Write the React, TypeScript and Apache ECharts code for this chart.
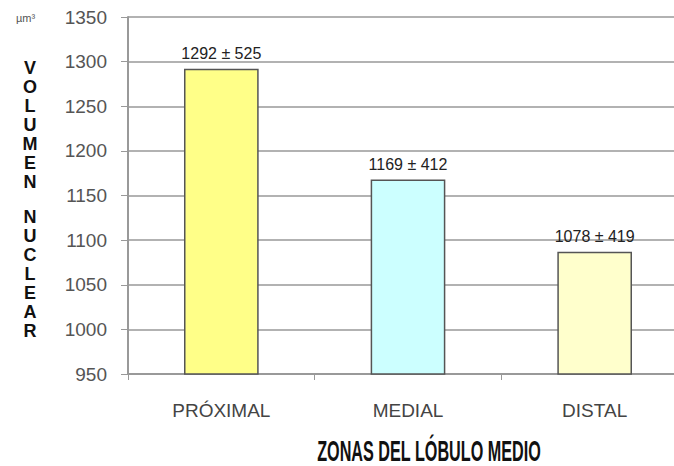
import React, { useEffect, useRef } from "react";
import * as echarts from "echarts";

const categories = ["PRÓXIMAL", "MEDIAL", "DISTAL"];
const values = [1292, 1168, 1087];
const barLabels = ["1292 ± 525", "1169 ± 412", "1078 ± 419"];
const barColors = ["#FFFF88", "#CCFFFF", "#FFFFCC"];
const yTitleTop = "VOLUMEN";
const yTitleBottom = "NUCLEAR";
const xTitle = "ZONAS DEL LÓBULO MEDIO";
const unitLabel = "µm³";

const ARIAL = "Arial, 'Liberation Sans', sans-serif";

export default function App() {
  const ref = useRef<HTMLDivElement>(null);
  useEffect(() => {
    if (!ref.current) return;
    const chart = echarts.init(ref.current, undefined, { renderer: "svg" });
    const letterStyle = {
      fontFamily: ARIAL,
      fontWeight: "bold",
      fontSize: 18,
      lineHeight: 19,
      fill: "#111",
      align: "center",
      verticalAlign: "top",
    };
    chart.setOption({
      animation: false,
      backgroundColor: "#ffffff",
      grid: {
        left: 128,
        top: 17,
        width: 560,
        height: 357,
        containLabel: false,
        outerBoundsMode: "none",
      },
      xAxis: {
        type: "category",
        data: categories,
        axisLine: { lineStyle: { color: "#999", width: 2 } },
        axisTick: { show: true, length: 6, lineStyle: { color: "#999" } },
        axisLabel: {
          fontSize: 19,
          color: "#444",
          margin: 27,
          fontFamily: ARIAL,
        },
      },
      yAxis: {
        type: "value",
        min: 950,
        max: 1350,
        interval: 50,
        axisLine: { show: true, lineStyle: { color: "#999", width: 2 } },
        axisTick: { show: true, length: 7, lineStyle: { color: "#999" } },
        axisLabel: {
          fontSize: 19,
          color: "#555",
          margin: 21,
          fontFamily: ARIAL,
          formatter: (v: number) => String(v),
        },
        splitLine: { lineStyle: { color: "#999", width: 1.5 } },
      },
      series: [
        {
          type: "bar",
          barWidth: "40%",
          data: values.map((v, i) => ({
            value: v,
            itemStyle: { color: barColors[i], borderColor: "#555", borderWidth: 1.5 },
          })),
          label: {
            show: true,
            position: "top",
            distance: 7,
            formatter: (p: any) => barLabels[p.dataIndex],
            fontSize: 16,
            color: "#222",
            fontFamily: ARIAL,
          },
        },
      ],
      graphic: [
        {
          type: "text",
          left: 16,
          top: 12,
          style: {
            text: unitLabel,
            fontSize: 11,
            fill: "#555",
            fontFamily: ARIAL,
          },
        },
        {
          type: "text",
          x: 30,
          y: 58,
          style: { ...letterStyle, text: yTitleTop.split("").join("\n") },
        },
        {
          type: "text",
          x: 30,
          y: 207,
          style: { ...letterStyle, text: yTitleBottom.split("").join("\n") },
        },
        {
          type: "text",
          x: 429,
          y: 450,
          scaleX: 0.54,
          style: {
            text: xTitle,
            fontFamily: ARIAL,
            fontWeight: "bold",
            fontSize: 30,
            fill: "#111",
            align: "center",
            verticalAlign: "middle",
          },
        },
      ],
    });
    return () => chart.dispose();
  }, []);
  return (
    <div
      ref={ref}
      style={{ position: "fixed", left: 0, top: 0, width: 674, height: 466 }}
    />
  );
}
